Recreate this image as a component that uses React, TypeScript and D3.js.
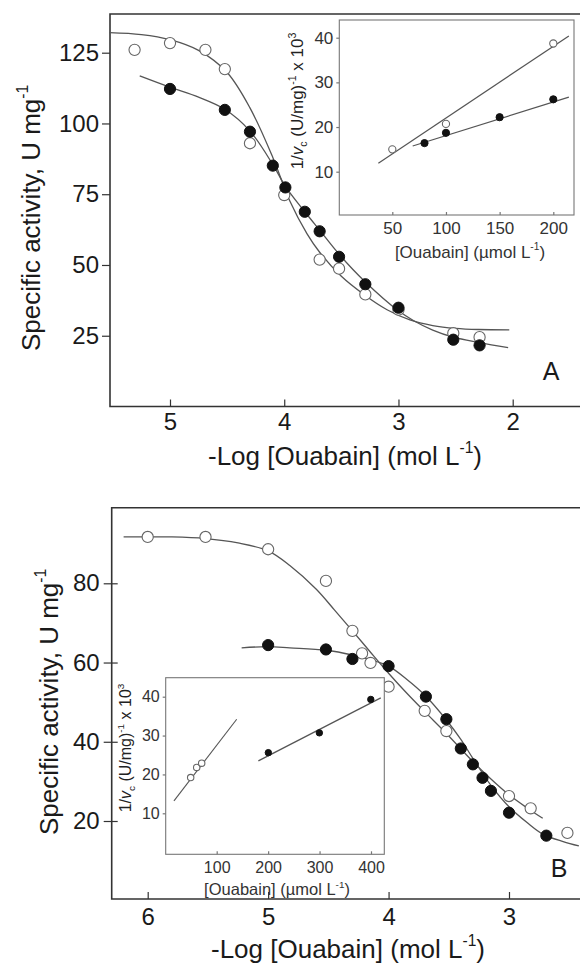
import React, { useEffect, useRef } from "react";
import * as d3 from "d3";

type Pt = [number, number];

const FONT = "'Liberation Sans', Arial, Helvetica, sans-serif";

// ---- panel A: specific activity vs -log[ouabain] ----
const aOpen: Pt[] = [
  [5.31, 126.0], [5.0, 128.4], [4.69, 126.0], [4.52, 119.2], [4.3, 93.0], [4.0, 74.7],
  [3.69, 51.9], [3.52, 48.7], [3.29, 39.6], [3.0, 34.2], [2.52, 25.9], [2.29, 24.5],
];
const aFilled: Pt[] = [
  [5.0, 112.2], [4.52, 104.8], [4.3, 97.1], [4.1, 85.1], [3.99, 77.4], [3.82, 68.8],
  [3.69, 61.9], [3.52, 52.9], [3.29, 43.2], [3.0, 34.9], [2.52, 23.6], [2.29, 21.6],
];
const aOpenFit: Pt[] = [
  [5.53, 132.1], [5.25, 131.4], [5.0, 129.6], [4.75, 125.8], [4.5, 118.0], [4.3, 105.5],
  [4.1, 88.0], [3.95, 72.5], [3.8, 61.0], [3.69, 54.5], [3.5, 46.0], [3.3, 39.5],
  [3.1, 34.2], [2.9, 30.6], [2.7, 28.6], [2.5, 27.6], [2.3, 27.2], [2.03, 27.1],
];
const aFilledFit: Pt[] = [
  [5.265, 116.8], [5.0, 112.8], [4.75, 109.3], [4.52, 105.0], [4.3, 97.3], [4.1, 85.5],
  [3.99, 77.8], [3.82, 68.8], [3.69, 62.3], [3.52, 53.8], [3.29, 44.0], [3.0, 33.8],
  [2.87, 30.4], [2.7, 27.0], [2.52, 24.5], [2.29, 22.6], [2.04, 20.8],
];
const aXTicks = [5, 4, 3, 2];
const aYTicks = [25, 50, 75, 100, 125];

// panel A inset (1/v vs [ouabain])
const aInOpen: Pt[] = [[50, 15.0], [100, 20.7], [200, 38.7]];
const aInFilled: Pt[] = [[80, 16.4], [100, 18.7], [150, 22.2], [200, 26.2]];
const aInOpenLine: Pt[] = [[37, 11.9], [214.5, 40.4]];
const aInFilledLine: Pt[] = [[69, 15.75], [214.5, 26.7]];
const aInXTicks = [50, 100, 150, 200];
const aInYTicks = [10, 20, 30, 40];

// ---- panel B ----
const bOpen: Pt[] = [
  [6.0, 91.7], [5.52, 91.7], [5.0, 88.6], [4.52, 80.6], [4.3, 68.0], [4.22, 62.3],
  [4.15, 59.9], [4.0, 53.9], [3.7, 47.8], [3.52, 42.7], [3.0, 26.3], [2.82, 23.2], [2.515, 17.0],
];
const bFilled: Pt[] = [
  [5.0, 64.4], [4.52, 63.3], [4.3, 60.9], [4.0, 59.1], [3.69, 51.4], [3.52, 45.7],
  [3.4, 38.3], [3.3, 34.3], [3.22, 30.9], [3.15, 27.6], [3.0, 22.1], [2.69, 16.3],
];
const bOpenFit: Pt[] = [
  [6.2, 91.7], [5.8, 91.7], [5.52, 91.3], [5.25, 90.2], [5.0, 88.2], [4.82, 84.5],
  [4.6, 78.5], [4.45, 73.3], [4.3, 68.0], [4.15, 62.6], [4.0, 57.3], [3.85, 52.3],
  [3.7, 47.6], [3.52, 42.1], [3.3, 35.0], [3.15, 30.6], [3.0, 26.6], [2.85, 23.3], [2.72, 20.7],
];
const bFilledFit: Pt[] = [
  [5.22, 63.7], [5.0, 64.0], [4.82, 63.7], [4.52, 63.1], [4.3, 61.9], [4.15, 60.7],
  [4.0, 59.1], [3.85, 55.8], [3.7, 51.8], [3.52, 45.5], [3.4, 40.6], [3.3, 35.8],
  [3.15, 29.0], [3.0, 23.6], [2.85, 19.6], [2.72, 16.7], [2.55, 14.8], [2.42, 13.7],
];
const bXTicks = [6, 5, 4, 3];
const bYTicks = [20, 40, 60, 80];

// panel B inset
const bInOpen: Pt[] = [[49.4, 19.2], [61.1, 21.8], [70.8, 22.9]];
const bInFilled: Pt[] = [[200.4, 25.6], [299.6, 30.7], [399.6, 39.3]];
const bInOpenLine: Pt[] = [[16.9, 13.2], [138.9, 34.2]];
const bInFilledLine: Pt[] = [[181, 23.5], [419, 39.7]];
const bInXTicks = [100, 200, 300, 400];
const bInYTicks = [10, 20, 30, 40];

const App = () => {
  const ref = useRef<SVGSVGElement | null>(null);

  useEffect(() => {
    const svg = d3.select(ref.current);
    svg.selectAll("*").remove();
    svg.attr("font-family", FONT);

    const styleAxis = (g: any, size: number) => {
      g.attr("font-family", FONT).attr("font-size", size);
      g.select(".domain").remove();
      g.selectAll(".tick line").attr("stroke", "#333").attr("stroke-width", 1.2);
      g.selectAll(".tick text").attr("fill", "#1a1a1a");
    };

    const curve = (data: Pt[], x: any, y: any, smooth: boolean, w: number) => {
      const gen = d3.line<Pt>().x((d) => x(d[0])).y((d) => y(d[1]));
      if (smooth) gen.curve(d3.curveCatmullRom.alpha(0.5));
      svg.append("path").datum(data)
        .attr("fill", "none").attr("stroke", "#555").attr("stroke-width", w)
        .attr("d", gen as any);
    };

    const dots = (data: Pt[], x: any, y: any, r: number, filled: boolean) => {
      svg.append("g").selectAll("circle").data(data).enter().append("circle")
        .attr("cx", (d) => x(d[0])).attr("cy", (d) => y(d[1])).attr("r", r)
        .attr("fill", filled ? "#111" : "#fff")
        .attr("stroke", filled ? "#111" : "#666")
        .attr("stroke-width", filled ? 1 : 1.1);
    };

    // x title with superscript
    const xTitle = (cx: number, cy: number, size: number, pre: string) => {
      const t = svg.append("text").attr("x", cx).attr("y", cy).attr("text-anchor", "middle")
        .attr("font-size", size).attr("fill", "#1a1a1a");
      t.append("tspan").text(pre);
      t.append("tspan").attr("dy", -size * 0.45).attr("font-size", size * 0.6).text("-1");
      t.append("tspan").attr("dy", size * 0.45).text(")");
    };

    const yTitle = (cx: number, cy: number, size: number) => {
      const t = svg.append("text").attr("transform", `translate(${cx},${cy}) rotate(-90)`)
        .attr("text-anchor", "middle").attr("font-size", size).attr("fill", "#1a1a1a");
      t.append("tspan").text("Specific activity, U mg");
      t.append("tspan").attr("dy", -size * 0.45).attr("font-size", size * 0.6).text("-1");
    };

    const inYTitle = (cx: number, cy: number, size: number) => {
      const t = svg.append("text").attr("transform", `translate(${cx},${cy}) rotate(-90)`)
        .attr("text-anchor", "middle").attr("font-size", size).attr("fill", "#222");
      const s = size * 0.62, up = size * 0.42;
      t.append("tspan").text("1/");
      t.append("tspan").attr("font-style", "italic").text("v");
      t.append("tspan").attr("font-size", s).attr("dy", up * 0.6).text("c");
      t.append("tspan").attr("dy", -up * 0.6).text(" (U/mg)");
      t.append("tspan").attr("font-size", s).attr("dy", -up).text("-1");
      t.append("tspan").attr("dy", up).text(" x 10");
      t.append("tspan").attr("font-size", s).attr("dy", -up).text("3");
    };

    const inset = (x: any, y: any, box: number[], size: number, xt: number[], yt: number[],
      tickPadX: number, tickPadY: number) => {
      const [l, t, r, b] = box;
      svg.append("rect").attr("x", l).attr("y", t).attr("width", r - l).attr("height", b - t)
        .attr("fill", "#fff").attr("stroke", "#777").attr("stroke-width", 1.1);
      const gx = svg.append("g").attr("transform", `translate(0,${b})`)
        .call(d3.axisBottom(x).tickValues(xt).tickSize(-3).tickPadding(tickPadX) as any);
      styleAxis(gx, size);
      gx.selectAll(".tick line").attr("stroke", "#777");
      gx.selectAll(".tick text").attr("fill", "#333");
      const gy = svg.append("g").attr("transform", `translate(${l},0)`)
        .call(d3.axisLeft(y).tickValues(yt).tickSize(3).tickPadding(tickPadY) as any);
      styleAxis(gy, size);
      gy.selectAll(".tick line").attr("stroke", "#777");
      gy.selectAll(".tick text").attr("fill", "#333");
    };

    const inTitle = (cx: number, cy: number, size: number) => {
      const t = svg.append("text").attr("x", cx).attr("y", cy).attr("text-anchor", "middle")
        .attr("font-size", size).attr("fill", "#333");
      t.append("tspan").text("[Ouabain] (\u00b5mol L");
      t.append("tspan").attr("dy", -size * 0.45).attr("font-size", size * 0.6).text("-1");
      t.append("tspan").attr("dy", size * 0.45).text(")");
    };

    // ================= panel A =================
    const xA = d3.scaleLinear().domain([5, 2]).range([170, 512.7]);
    const yA = d3.scaleLinear().domain([0, 125]).range([406.5, 52.7]);
    const fA = { l: 110, t: 14, r: 580, b: 406.5 };

    svg.append("path")
      .attr("d", `M${fA.r},${fA.t}H${fA.l}V${fA.b}H${fA.r}`)
      .attr("fill", "none").attr("stroke", "#333").attr("stroke-width", 1.6);

    const gxA = svg.append("g").attr("transform", `translate(0,${fA.b})`)
      .call(d3.axisBottom(xA).tickValues(aXTicks).tickSize(-7).tickPadding(6.5).tickFormat(d3.format("d")) as any);
    styleAxis(gxA, 24);
    const gyA = svg.append("g").attr("transform", `translate(${fA.l},0)`)
      .call(d3.axisLeft(yA).tickValues(aYTicks).tickSize(8).tickPadding(3) as any);
    styleAxis(gyA, 24);

    curve(aOpenFit, xA, yA, true, 1.3);
    curve(aFilledFit, xA, yA, true, 1.3);
    dots(aOpen, xA, yA, 5.6, false);
    dots(aFilled, xA, yA, 5.6, true);

    xTitle(345, 465, 26, "-Log [Ouabain] (mol L");
    yTitle(40, 218, 26);
    svg.append("text").attr("x", 551).attr("y", 380).attr("text-anchor", "middle")
      .attr("font-size", 25).attr("fill", "#1a1a1a").text("A");

    // inset A
    const xAi = d3.scaleLinear().domain([50, 200]).range([392.3, 553.3]);
    const yAi = d3.scaleLinear().domain([10, 40]).range([171.7, 37.7]);
    inset(xAi, yAi, [339.3, 20, 574, 215], 17, aInXTicks, aInYTicks, 7, 3);
    curve(aInOpenLine, xAi, yAi, false, 1.2);
    curve(aInFilledLine, xAi, yAi, false, 1.2);
    dots(aInOpen, xAi, yAi, 3.6, false);
    dots(aInFilled, xAi, yAi, 3.6, true);
    inTitle(470, 258, 17);
    inYTitle(303, 101, 17);

    // ================= panel B =================
    const xB = d3.scaleLinear().domain([6, 3]).range([147.7, 509]);
    const yB = d3.scaleLinear().domain([20, 80]).range([821, 583.3]);
    const fB = { l: 111.7, t: 507.7, r: 580, b: 899 };

    svg.append("path")
      .attr("d", `M${fB.r},${fB.t}H${fB.l}V${fB.b}H${fB.r}`)
      .attr("fill", "none").attr("stroke", "#333").attr("stroke-width", 1.6);

    const gxB = svg.append("g").attr("transform", `translate(0,${fB.b})`)
      .call(d3.axisBottom(xB).tickValues(bXTicks).tickSize(-7).tickPadding(9).tickFormat(d3.format("d")) as any);
    styleAxis(gxB, 24);
    const gyB = svg.append("g").attr("transform", `translate(${fB.l},0)`)
      .call(d3.axisLeft(yB).tickValues(bYTicks).tickSize(8).tickPadding(4) as any);
    styleAxis(gyB, 24);
    gyB.selectAll(".tick line").attr("x1", 6);

    curve(bOpenFit, xB, yB, true, 1.3);
    curve(bFilledFit, xB, yB, true, 1.3);
    dots(bOpen, xB, yB, 5.6, false);
    dots(bFilled, xB, yB, 5.6, true);

    xTitle(348, 958, 26, "-Log [Ouabain] (mol L");
    yTitle(58, 702, 26);
    svg.append("text").attr("x", 559).attr("y", 877).attr("text-anchor", "middle")
      .attr("font-size", 25).attr("fill", "#1a1a1a").text("B");

    // inset B
    const xBi = d3.scaleLinear().domain([100, 400]).range([216.7, 371]);
    const yBi = d3.scaleLinear().domain([10, 40]).range([813.3, 696.7]);
    inset(xBi, yBi, [165.7, 677.7, 384.3, 854.3], 16, bInXTicks, bInYTicks, 7, 3);
    curve(bInOpenLine, xBi, yBi, false, 1.1);
    curve(bInFilledLine, xBi, yBi, false, 1.3);
    dots(bInOpen, xBi, yBi, 3.2, false);
    dots(bInFilled, xBi, yBi, 3.2, true);
    inTitle(277, 895, 16.5);
    inYTitle(131, 748, 16);
  }, []);

  return (
    <svg ref={ref} width={580} height={965}
      style={{ position: "absolute", left: 0, top: 0, background: "#fff" }} />
  );
};

export default App;
